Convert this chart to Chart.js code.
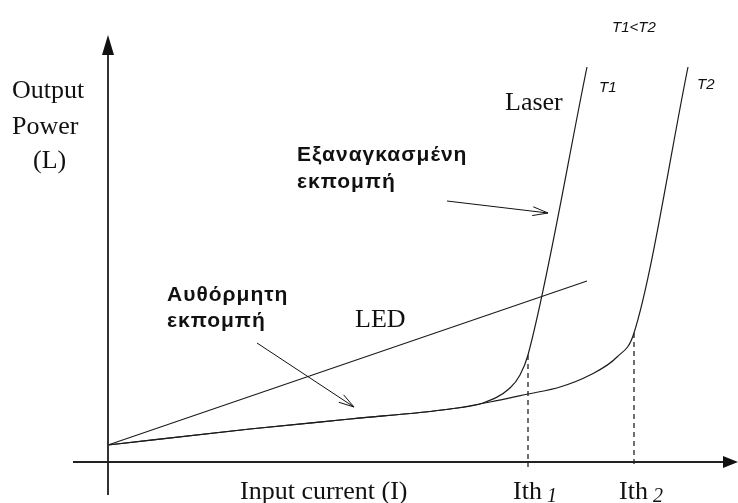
<!DOCTYPE html>
<html>
<head>
<meta charset="utf-8">
<script src="https://cdn.jsdelivr.net/npm/chart.js@4.4.1/dist/chart.umd.min.js"></script>
<style>
  body { margin: 0; background: #fff; }
  canvas { display: block; }
</style>
</head>
<body>
<canvas id="laserChart" width="738" height="503"></canvas>
<script>
// values (arbitrary units, I across, L up)
var ledI = [0, 47.9];
var ledL = [1.7, 18.1];

var t1I = [0, 14.2, 24.2, 34.2, 37.5, 40.2, 41.2, 42.0, 47.9];
var t1L = [1.7, 3.3, 4.3, 5.3, 5.9, 7.4, 8.7, 10.7, 39.5];

var t2I = [0, 14.2, 24.2, 34.2, 38.2, 42.0, 45.2, 48.2, 50.9, 52.6, 58.0];
var t2L = [1.7, 3.3, 4.3, 5.3, 6.0, 6.8, 7.5, 8.7, 10.5, 12.9, 39.5];

var ithI = [42.0, 52.6];
var ithL = [10.7, 12.9];
var ithLabels = ['1', '2'];

function pts(xs, ys) {
    var out = [];
    for (var i = 0; i < xs.length; i++) out.push({x: xs[i], y: ys[i]});
    return out;
}

var lineColor = '#1c1c1c';

var datasets = [
    // axes
    {data: [{x: -3.5, y: 0}, {x: 62, y: 0}], borderColor: '#222', borderWidth: 2},
    {data: [{x: 0, y: -3.3}, {x: 0, y: 41.5}], borderColor: '#333', borderWidth: 2},
    // LED
    {data: pts(ledI, ledL), borderColor: lineColor, borderWidth: 1.2},
    // laser T1 and T2
    {data: pts(t1I, t1L), borderColor: lineColor, borderWidth: 1.2, cubicInterpolationMode: 'monotone'},
    {data: pts(t2I, t2L), borderColor: lineColor, borderWidth: 1.2, cubicInterpolationMode: 'monotone'}
];
// threshold dashed lines
for (var k = 0; k < ithI.length; k++) {
    datasets.push({
        data: [{x: ithI[k], y: ithL[k]}, {x: ithI[k], y: -0.5}],
        borderColor: '#222', borderWidth: 1.3, borderDash: [5, 4]
    });
}
datasets.forEach(function(d) {
    d.showLine = true;
    d.pointRadius = 0;
    d.fill = false;
});

var labelsPlugin = {
    id: 'labels',
    afterDraw: function(chart) {
        var ctx = chart.ctx;
        var sx = chart.scales.x, sy = chart.scales.y;
        function px(x) { return sx.getPixelForValue(x); }
        function py(y) { return sy.getPixelForValue(y); }

        ctx.save();
        ctx.fillStyle = '#111';
        ctx.strokeStyle = '#111';

        // axis arrow heads
        ctx.beginPath();
        ctx.moveTo(px(63), py(0));
        ctx.lineTo(px(61.5), py(0) - 6);
        ctx.lineTo(px(61.5), py(0) + 6);
        ctx.closePath();
        ctx.fill();
        ctx.beginPath();
        ctx.moveTo(px(0), py(42.7));
        ctx.lineTo(px(0) - 6, py(40.7));
        ctx.lineTo(px(0) + 6, py(40.7));
        ctx.closePath();
        ctx.fill();

        // pointer arrows
        function arrow(x1, y1, x2, y2) {
            var a = px(x1), b = py(y1), c = px(x2), d = py(y2);
            var ang = Math.atan2(d - b, c - a);
            ctx.lineWidth = 1;
            ctx.beginPath();
            ctx.moveTo(a, b);
            ctx.lineTo(c, d);
            ctx.moveTo(c - 16 * Math.cos(ang - 0.28), d - 16 * Math.sin(ang - 0.28));
            ctx.lineTo(c, d);
            ctx.lineTo(c - 16 * Math.cos(ang + 0.28), d - 16 * Math.sin(ang + 0.28));
            ctx.stroke();
        }
        arrow(33.9, 26.1, 44.0, 24.9);
        arrow(14.9, 11.9, 24.6, 5.5);

        ctx.textBaseline = 'alphabetic';
        ctx.textAlign = 'left';

        // serif texts
        ctx.font = '26px "Liberation Serif", serif';
        ctx.fillText('Output', 12, 98);
        ctx.fillText('Power', 12, 134);
        ctx.fillText('(L)', 33, 168);
        ctx.fillText('Laser', 505, 110);
        ctx.fillText('LED', 355, 327);
        ctx.fillText('Input current (I)', 240, 499);
        for (var i = 0; i < ithI.length; i++) {
            var lx = px(ithI[i]) - 15;
            ctx.font = '26px "Liberation Serif", serif';
            ctx.fillText('Ith', lx, 499);
            ctx.font = 'italic 20px "Liberation Serif", serif';
            ctx.fillText(ithLabels[i], lx + 34, 502);
        }

        // small italic labels
        ctx.font = 'italic 15px "Liberation Sans", sans-serif';
        ctx.fillText('T1', 599, 92);
        ctx.fillText('T2', 697, 89);
        ctx.fillText('T1<T2', 612, 32);

        // bold Greek labels
        ctx.font = 'bold 21px "Liberation Sans", sans-serif';
        ctx.letterSpacing = '1px';
        ctx.fillText('Εξαναγκασμένη', 297, 161);
        ctx.fillText('εκπομπή', 297, 188);
        ctx.fillText('Αυθόρμητη', 167, 301);
        ctx.fillText('εκπομπή', 167, 327);
        ctx.restore();
    }
};

new Chart(document.getElementById('laserChart'), {
    type: 'scatter',
    data: {datasets: datasets},
    options: {
        responsive: false,
        animation: false,
        layout: {padding: 0},
        plugins: {legend: {display: false}, tooltip: {enabled: false}},
        scales: {
            x: {type: 'linear', display: false, min: -10.8, max: 63.0},
            y: {type: 'linear', display: false, min: -4.1, max: 46.2}
        }
    },
    plugins: [labelsPlugin]
});
</script>
</body>
</html>
